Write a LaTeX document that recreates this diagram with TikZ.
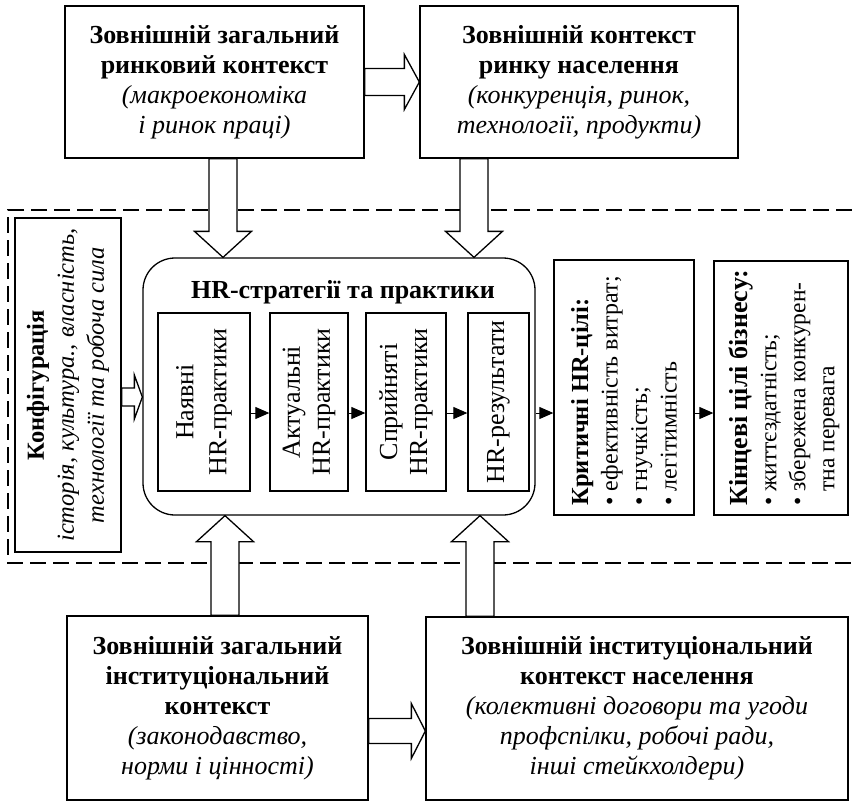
\documentclass[tikz,border=0pt]{standalone}
\usepackage{fontspec}
\setmainfont{Liberation Serif}
\usetikzlibrary{calc,arrows.meta}
\tikzset{
  base/.style={font=\fontsize{26pt}{30pt}\selectfont},
  box/.style={draw, line width=1.3pt, fill=white, inner sep=0pt},
  txt/.style={base, align=center, inner sep=0pt},
  flow/.style={line width=1pt, -{Triangle[length=14pt,width=12pt]}},
  hollowarrow/.style={draw, line width=1.3pt, fill=white, line join=miter},
  frame/.style={line width=1.2pt, dash pattern=on 16pt off 7pt},
}
% block arrow from coordinate #1 to coordinate #2:
% #3 half shaft width, #4 half head width, #5 head length
\newcommand\hollow[5]{%
  \coordinate (hb) at ($(#2)!#5!(#1)$);
  \draw[hollowarrow] ($(#1)!#3!90:(#2)$) -- ($(hb)!#3!90:(#2)$) -- ($(hb)!#4!90:(#2)$)
    -- (#2) -- ($(hb)!#4!-90:(#2)$) -- ($(hb)!#3!-90:(#2)$) -- ($(#1)!#3!-90:(#2)$) -- cycle;}
\newcommand\fs[2]{\fontsize{#1pt}{#2pt}\selectfont}
\begin{document}
\begin{tikzpicture}[x=1pt,y=-1pt]
\useasboundingbox (0,0) rectangle (852,804);

% dashed frame of the organisation
\draw[frame] (852,210) -- (8,210) -- (8,563) -- (852,563);

% outer context boxes
\node[box, minimum width=299, minimum height=152] (tl) at (214.5,82) {};
\node[txt] (tlt) at (tl) {\textbf{Зовнішній загальний}\\\textbf{ринковий контекст}\\\textit{(макроекономіка}\\\textit{і ринок праці)}};
\node[box, minimum width=318, minimum height=152] (tr) at (579,82) {};
\node[txt] (trt) at (tr) {\textbf{Зовнішній контекст}\\\textbf{ринку населення}\\\textit{(конкуренція, ринок,}\\\textit{технології, продукти)}};
\node[box, minimum width=301, minimum height=184] (bl) at (217.5,708) {};
\node[txt] (blt) at (bl) {\textbf{Зовнішній загальний}\\\textbf{інституціональний}\\\textbf{контекст}\\\textit{(законодавство,}\\\textit{норми і цінності)}};
\node[box, minimum width=422, minimum height=183] (br) at (637,708.5) {};
\node[txt] (brt) at (br) {\textbf{Зовнішній інституціональний}\\\textbf{контекст населення}\\\textit{(колективні договори та угоди}\\\textit{профспілки, робочі ради,}\\\textit{інші стейкхолдери)}};

% configuration
\node[box, minimum width=106, minimum height=334] (cfg) at (68,385) {};
\node[txt, rotate=90, font=\fs{24.5}{30}] (cfgt) at (cfg) {\textbf{Конфігурація}\\\textit{історія, культура., власність,}\\\textit{технології та робоча сила}};

% HR strategies and practices
\node[box, rounded corners=32pt, minimum width=392, minimum height=257] (rb) at (339,386.5) {};
\node[txt, font=\bfseries\fs{26}{30}] (rbt) at ([xshift=4pt,yshift=-35pt]rb.north) {HR-стратегії та практики};
\node[box, minimum width=92, minimum height=178] (b1) at (204,402) {};
\node[box, minimum width=78, minimum height=178] (b2) at (309,402) {};
\node[box, minimum width=80, minimum height=178] (b3) at (406,402) {};
\node[box, minimum width=61, minimum height=178] (b4) at (498.5,402) {};
\node[txt, rotate=90, font=\fs{26}{33}] (b1t) at (b1) {Наявні\\HR-практики};
\node[txt, rotate=90] (b2t) at (b2) {Актуальні\\HR-практики};
\node[txt, rotate=90] (b3t) at (b3) {Сприйняті\\HR-практики};
\node[txt, rotate=90] (b4t) at (b4) {HR-результати};

% goals
\node[box, minimum width=140, minimum height=255] (crit) at (624,387.5) {};
\node[txt, rotate=90, align=left, anchor=west, font=\fs{24}{29.5}] (critt) at ([yshift=10pt]crit.south)
  {{\fs{24.5}{29.5}\textbf{Критичні HR-цілі:}}\\\textbullet~ефективність витрат;\\\textbullet~гнучкість;\\\textbullet~легітимність};
\node[box, minimum width=134, minimum height=254] (fin) at (781,388) {};
\node[txt, rotate=90, align=left, anchor=west, font=\fs{23.5}{29}] (fint) at ([xshift=3pt,yshift=10pt]fin.south)
  {{\fs{26}{29}\textbf{Кінцеві цілі бізнесу:}}\\\textbullet~життєздатність;\\\textbullet~збережена конкурен-\\\hphantom{\textbullet~}тна перевага};

% flow between practices
\coordinate (fl) at (0,413);
\draw[flow] (b1.east |- fl) -- (b2.west |- fl);
\draw[flow] (b2.east |- fl) -- (b3.west |- fl);
\draw[flow] (b3.east |- fl) -- (b4.west |- fl);
\draw[flow] (rb.east |- fl) -- (crit.west |- fl);
\draw[flow] (crit.east |- fl) -- (fin.west |- fl);

% block arrows
\coordinate (h1s) at (tl.east);
\coordinate (h1e) at (h1s -| tr.west);
\hollow{h1s}{h1e}{13.5pt}{27.5pt}{15pt}
\coordinate (h2s) at ([xshift=8.5pt]tl.south);
\coordinate (h2e) at (h2s |- rb.north);
\hollow{h2s}{h2e}{14pt}{28.5pt}{26pt}
\coordinate (h3s) at ([xshift=-105pt]tr.south);
\coordinate (h3e) at (h3s |- rb.north);
\hollow{h3s}{h3e}{14pt}{28.5pt}{26pt}
\coordinate (h4s) at ([xshift=7.5pt]bl.north);
\coordinate (h4e) at (h4s |- rb.south);
\hollow{h4s}{h4e}{14pt}{28.5pt}{26pt}
\coordinate (h5s) at ([xshift=-157pt]br.north);
\coordinate (h5e) at (h5s |- rb.south);
\hollow{h5s}{h5e}{14pt}{28.5pt}{26pt}
\coordinate (h6s) at ([yshift=-23pt]bl.east);
\coordinate (h6e) at (h6s -| br.west);
\hollow{h6s}{h6e}{12.5pt}{27.5pt}{14pt}
\coordinate (h7s) at ([yshift=-12pt]cfg.east);
\coordinate (h7e) at (h7s -| rb.west);
\hollow{h7s}{h7e}{9pt}{22pt}{8pt}
\end{tikzpicture}
\end{document}
